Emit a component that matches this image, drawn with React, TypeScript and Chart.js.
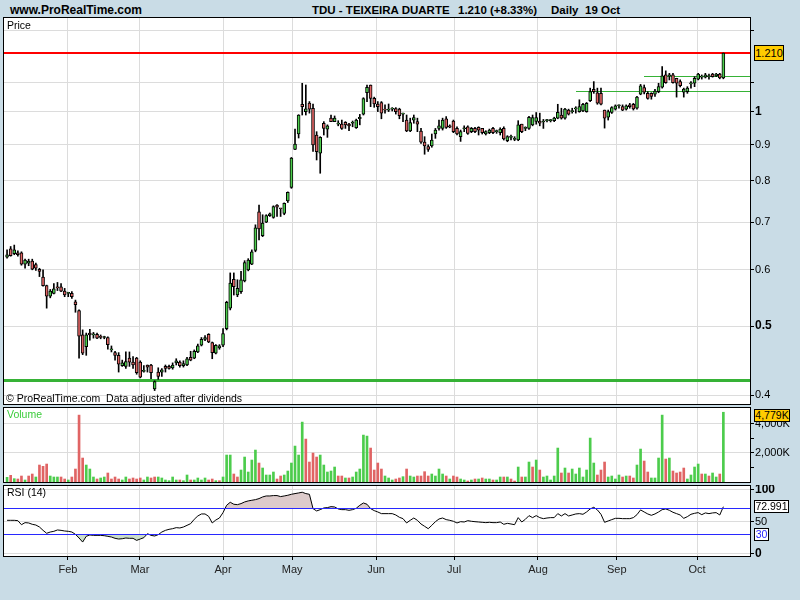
import React, { useEffect, useRef } from 'react';
import { Chart, registerables } from 'chart.js';

Chart.register(...registerables);

// ---------- DATA ----------
const OPEN = [
  0.625, 0.642, 0.632, 0.634, 0.634, 0.611, 0.613, 0.617, 0.610, 0.601,
  0.586, 0.570, 0.551, 0.556, 0.568, 0.568, 0.560, 0.556, 0.556, 0.541,
  0.526, 0.486, 0.468, 0.489, 0.486, 0.487, 0.484, 0.482, 0.482, 0.463,
  0.459, 0.455, 0.440, 0.439, 0.451, 0.445, 0.451, 0.445, 0.432, 0.441,
  0.441, 0.408, 0.431, 0.431, 0.439, 0.439, 0.437, 0.444, 0.445, 0.440,
  0.441, 0.452, 0.451, 0.460, 0.470, 0.479, 0.487, 0.474, 0.458, 0.466,
  0.470, 0.496, 0.530, 0.582, 0.553, 0.559, 0.579, 0.600, 0.611, 0.639,
  0.724, 0.670, 0.700, 0.715, 0.711, 0.740, 0.732, 0.720, 0.750, 0.783,
  0.886, 0.931, 1.025, 1.001, 1.029, 1.012, 0.928, 0.875, 0.964, 0.946,
  0.980, 0.969, 0.961, 0.961, 0.967, 0.961, 0.964, 0.950, 0.978, 0.993,
  1.064, 1.091, 1.045, 1.026, 1.031, 1.007, 1.006, 1.009, 1.011, 1.009,
  0.993, 0.974, 0.940, 0.974, 0.969, 0.940, 0.907, 0.894, 0.896, 0.931,
  0.948, 0.948, 0.978, 0.956, 0.971, 0.948, 0.923, 0.947, 0.953, 0.938,
  0.948, 0.951, 0.948, 0.931, 0.935, 0.948, 0.938, 0.935, 0.948, 0.911,
  0.921, 0.915, 0.913, 0.961, 0.948, 0.948, 0.959, 0.970, 0.971, 0.968,
  0.972, 0.972, 0.972, 0.980, 0.990, 0.980, 1.006, 1.001, 1.010, 1.001,
  1.003, 1.001, 1.037, 1.076, 1.064, 1.062, 1.006, 0.983, 0.998, 1.009,
  1.020, 1.017, 1.009, 1.023, 1.025, 1.012, 1.059, 1.082, 1.062, 1.062,
  1.059, 1.068, 1.083, 1.127, 1.124, 1.127, 1.115, 1.103, 1.066, 1.068,
  1.095, 1.097, 1.112, 1.119, 1.119, 1.121, 1.130, 1.124, 1.130, 1.116,
];
const HIGH = [
  0.640, 0.647, 0.650, 0.638, 0.636, 0.621, 0.621, 0.621, 0.613, 0.603,
  0.600, 0.571, 0.563, 0.574, 0.576, 0.574, 0.565, 0.558, 0.559, 0.544,
  0.527, 0.494, 0.489, 0.495, 0.490, 0.489, 0.486, 0.484, 0.483, 0.469,
  0.461, 0.459, 0.448, 0.460, 0.460, 0.453, 0.452, 0.447, 0.440, 0.441,
  0.442, 0.419, 0.437, 0.436, 0.441, 0.441, 0.444, 0.450, 0.447, 0.447,
  0.452, 0.461, 0.463, 0.472, 0.482, 0.485, 0.488, 0.475, 0.471, 0.471,
  0.496, 0.542, 0.594, 0.594, 0.581, 0.597, 0.618, 0.622, 0.640, 0.694,
  0.740, 0.717, 0.717, 0.721, 0.738, 0.741, 0.732, 0.745, 0.772, 0.863,
  0.946, 0.991, 1.097, 1.091, 1.034, 1.026, 0.938, 0.923, 0.969, 0.959,
  0.990, 0.987, 0.972, 0.974, 0.969, 0.964, 0.971, 0.977, 0.992, 1.047,
  1.091, 1.091, 1.049, 1.034, 1.034, 1.023, 1.026, 1.014, 1.014, 1.012,
  0.996, 0.990, 0.980, 0.990, 0.980, 0.948, 0.923, 0.899, 0.931, 0.948,
  0.974, 0.980, 0.985, 0.959, 0.974, 0.953, 0.943, 0.956, 0.956, 0.951,
  0.951, 0.953, 0.948, 0.941, 0.946, 0.951, 0.943, 0.950, 0.953, 0.926,
  0.928, 0.923, 0.972, 0.961, 0.953, 0.986, 0.990, 0.998, 0.996, 0.976,
  0.976, 0.976, 0.983, 1.025, 1.012, 1.012, 1.009, 1.012, 1.017, 1.040,
  1.028, 1.031, 1.080, 1.103, 1.080, 1.080, 1.006, 1.006, 1.017, 1.023,
  1.023, 1.023, 1.023, 1.028, 1.028, 1.052, 1.093, 1.091, 1.068, 1.064,
  1.076, 1.097, 1.158, 1.142, 1.133, 1.133, 1.115, 1.109, 1.080, 1.085,
  1.103, 1.121, 1.133, 1.127, 1.133, 1.130, 1.133, 1.133, 1.133, 1.210,
];
const LOW = [
  0.623, 0.627, 0.630, 0.627, 0.609, 0.603, 0.608, 0.600, 0.599, 0.587,
  0.569, 0.530, 0.548, 0.555, 0.561, 0.559, 0.550, 0.550, 0.547, 0.523,
  0.451, 0.456, 0.455, 0.478, 0.481, 0.480, 0.480, 0.480, 0.464, 0.460,
  0.448, 0.431, 0.439, 0.436, 0.439, 0.436, 0.428, 0.423, 0.431, 0.431,
  0.422, 0.406, 0.421, 0.425, 0.431, 0.435, 0.435, 0.441, 0.438, 0.438,
  0.440, 0.447, 0.450, 0.459, 0.469, 0.477, 0.474, 0.450, 0.457, 0.464,
  0.468, 0.494, 0.527, 0.553, 0.550, 0.556, 0.577, 0.598, 0.610, 0.636,
  0.661, 0.668, 0.699, 0.713, 0.709, 0.713, 0.713, 0.717, 0.746, 0.781,
  0.885, 0.919, 0.990, 0.990, 0.996, 0.880, 0.856, 0.820, 0.928, 0.921,
  0.969, 0.969, 0.956, 0.945, 0.948, 0.941, 0.953, 0.948, 0.959, 0.990,
  1.034, 1.017, 1.015, 1.001, 0.978, 0.996, 1.001, 1.003, 0.993, 0.978,
  0.969, 0.938, 0.938, 0.964, 0.938, 0.903, 0.872, 0.880, 0.892, 0.918,
  0.943, 0.943, 0.948, 0.950, 0.935, 0.928, 0.909, 0.938, 0.930, 0.935,
  0.935, 0.928, 0.931, 0.928, 0.932, 0.932, 0.933, 0.928, 0.913, 0.908,
  0.913, 0.911, 0.911, 0.935, 0.941, 0.945, 0.956, 0.961, 0.956, 0.948,
  0.968, 0.968, 0.969, 0.978, 0.977, 0.977, 0.990, 0.996, 0.996, 0.999,
  1.001, 0.999, 1.034, 1.062, 1.025, 1.023, 0.949, 0.974, 0.995, 1.006,
  1.012, 1.004, 1.006, 1.012, 1.006, 1.009, 1.057, 1.060, 1.042, 1.042,
  1.051, 1.064, 1.080, 1.097, 1.109, 1.097, 1.049, 1.084, 1.049, 1.062,
  1.080, 1.085, 1.109, 1.112, 1.116, 1.112, 1.119, 1.121, 1.113, 1.113,
];
const CLOSE = [
  0.630, 0.628, 0.640, 0.630, 0.611, 0.619, 0.617, 0.601, 0.603, 0.597,
  0.570, 0.551, 0.560, 0.564, 0.566, 0.560, 0.553, 0.556, 0.550, 0.536,
  0.484, 0.458, 0.486, 0.486, 0.486, 0.481, 0.482, 0.482, 0.471, 0.463,
  0.455, 0.442, 0.444, 0.446, 0.445, 0.441, 0.430, 0.424, 0.432, 0.438,
  0.430, 0.418, 0.425, 0.434, 0.436, 0.436, 0.441, 0.447, 0.440, 0.443,
  0.450, 0.448, 0.461, 0.469, 0.479, 0.482, 0.475, 0.459, 0.470, 0.469,
  0.488, 0.540, 0.575, 0.568, 0.565, 0.581, 0.614, 0.619, 0.636, 0.687,
  0.685, 0.698, 0.715, 0.719, 0.736, 0.735, 0.731, 0.744, 0.771, 0.861,
  0.901, 0.990, 1.017, 1.010, 1.009, 0.899, 0.879, 0.921, 0.948, 0.956,
  0.969, 0.980, 0.961, 0.948, 0.959, 0.956, 0.964, 0.974, 0.983, 1.044,
  1.083, 1.045, 1.026, 1.017, 0.996, 1.006, 1.006, 1.009, 1.001, 0.988,
  0.993, 0.940, 0.966, 0.982, 0.961, 0.907, 0.896, 0.886, 0.913, 0.943,
  0.956, 0.974, 0.951, 0.952, 0.938, 0.931, 0.938, 0.947, 0.933, 0.948,
  0.938, 0.943, 0.935, 0.938, 0.943, 0.935, 0.938, 0.946, 0.916, 0.923,
  0.921, 0.915, 0.959, 0.938, 0.948, 0.983, 0.982, 0.982, 0.964, 0.968,
  0.972, 0.972, 0.980, 0.999, 0.980, 1.009, 0.993, 1.001, 1.010, 1.017,
  1.025, 1.028, 1.068, 1.068, 1.029, 1.025, 0.980, 1.001, 1.014, 1.020,
  1.020, 1.006, 1.020, 1.017, 1.010, 1.049, 1.088, 1.066, 1.045, 1.051,
  1.070, 1.085, 1.124, 1.099, 1.124, 1.099, 1.097, 1.089, 1.077, 1.080,
  1.095, 1.115, 1.130, 1.119, 1.127, 1.121, 1.121, 1.130, 1.116, 1.210,
];
// volume in thousands of shares
const VOLUME = [
  319, 456, 228, 205, 410, 137, 410, 547, 342, 1163,
  1072, 1231, 410, 342, 342, 342, 205, 137, 342, 889,
  4583, 1642, 1163, 889, 342, 205, 274, 342, 616, 205,
  342, 205, 137, 342, 205, 274, 205, 274, 137, 342,
  274, 342, 342, 274, 137, 91, 342, 137, 137, 91,
  479, 137, 137, 274, 137, 274, 137, 205, 91, 91,
  342, 1847, 1847, 547, 342, 821, 1710, 684, 1505, 2189,
  1300, 958, 479, 479, 684, 205, 410, 479, 752, 1300,
  2462, 1847, 4104, 2941, 1368, 1984, 1710, 1847, 1163, 684,
  752, 1026, 410, 410, 274, 274, 342, 684, 889, 3215,
  3146, 2326, 821, 1300, 889, 410, 274, 137, 205, 274,
  365, 889, 410, 342, 410, 410, 707, 410, 547, 410,
  889, 547, 410, 205, 410, 342, 205, 137, 68, 137,
  205, 205, 274, 205, 205, 137, 137, 342, 342, 342,
  205, 68, 1026, 342, 342, 1368, 1026, 1505, 821, 342,
  410, 137, 410, 2326, 616, 958, 616, 889, 547, 958,
  342, 821, 3010, 1300, 479, 821, 1368, 342, 410, 205,
  479, 342, 410, 410, 274, 1163, 2257, 1436, 684, 274,
  274, 1642, 4583, 1573, 1642, 752, 616, 684, 958, 205,
  479, 1026, 1231, 547, 547, 410, 616, 342, 547, 4779,
];
const RSI = [
  51.8, 51.8, 51.8, 51.3, 45.0, 48.2, 47.7, 45.6, 44.5, 41.4,
  36.2, 31.6, 33.6, 34.7, 36.8, 36.2, 35.2, 34.7, 33.6, 30.0,
  24.3, 18.0, 26.9, 29.0, 28.4, 28.4, 28.4, 27.9, 26.9, 25.8,
  23.8, 22.7, 23.2, 24.3, 23.8, 23.8, 20.6, 22.7, 24.8, 31.0,
  28.4, 27.4, 29.5, 33.6, 36.2, 37.8, 38.8, 40.4, 39.9, 41.4,
  44.0, 46.6, 53.4, 58.6, 61.7, 61.7, 58.0, 47.7, 52.3, 55.4,
  63.8, 75.2, 79.9, 76.8, 76.2, 77.8, 80.4, 82.0, 83.0, 84.0,
  85.6, 88.2, 89.7, 89.7, 90.3, 90.3, 88.7, 89.7, 90.8, 92.3,
  93.4, 94.4, 95.5, 93.4, 92.3, 70.0, 66.4, 68.4, 71.0, 71.6,
  73.1, 72.6, 69.5, 68.4, 68.4, 67.4, 68.4, 70.5, 75.2, 78.8,
  76.8, 70.0, 66.9, 64.8, 62.2, 62.2, 62.2, 62.2, 60.1, 56.5,
  54.4, 47.7, 51.8, 55.4, 51.8, 46.1, 42.5, 38.8, 44.0, 49.7,
  53.9, 55.4, 52.9, 51.8, 50.3, 47.7, 49.7, 49.2, 51.3, 50.3,
  49.7, 49.2, 48.7, 48.2, 48.7, 48.2, 48.2, 49.2, 45.6, 47.1,
  46.1, 45.0, 56.0, 49.2, 53.4, 59.1, 56.0, 59.1, 56.0, 54.4,
  55.4, 56.0, 56.0, 62.2, 58.6, 62.2, 58.6, 60.1, 61.7, 62.2,
  61.2, 64.8, 69.5, 72.1, 68.0, 61.2, 48.7, 50.8, 52.9, 54.9,
  54.9, 54.4, 54.4, 54.4, 56.0, 60.6, 68.0, 64.8, 61.7, 59.6,
  61.7, 64.8, 68.4, 69.5, 67.4, 64.3, 62.2, 60.1, 54.9, 57.5,
  61.2, 62.7, 63.8, 60.6, 63.3, 62.2, 63.3, 63.8, 60.1, 72.991,
];

const MONTH_LABELS = ['Feb', 'Mar', 'Apr', 'May', 'Jun', 'Jul', 'Aug', 'Sep', 'Oct'];
const MONTH_START = [16.9, 36.9, 60, 79.2, 102.5, 124.2, 147.5, 169.4, 191.7];

const PRICE_TICKS = [0.4, 0.5, 0.6, 0.7, 0.8, 0.9, 1, 1.1, 1.3];
const PRICE_LABELED = [0.4, 0.5, 0.6, 0.7, 0.8, 0.9, 1];
const PRICE_BOLD = [0.5, 1];
const VOLUME_TICKS = [1000, 2000, 3000, 4000];
const VOLUME_LABELED = [2000, 4000];
const RSI_TICKS = [0, 50, 100];
const RSI_BOLD = [0, 100];

const LAST_PRICE = 1.21;
const CHANGE_PCT = 8.33;
const SUPPORT_LEVEL = 0.42;
const TREND_LEVELS = [1.067, 1.12];
const TREND_FROM = [158, 177];
const RSI_BANDS = [30, 70];

// ---------- STYLE ----------
const BG = '#c9dce6';
const FONT = '"Liberation Sans", Arial, Helvetica, sans-serif';
const GRID = '#dcdcdc';
const UP = '#4ccc4c';
const DOWN = '#e06464';
const BAND_BLUE = 'rgb(40,40,255)';
const X_MIN = -0.85;
const X_MAX = 206.4;

const IDX = CLOSE.map((_, i) => i);

function monthAxis(showLabels: boolean): any {
  return {
    type: 'linear',
    min: X_MIN,
    max: X_MAX,
    bounds: 'data',
    offset: false,
    afterBuildTicks: (s: any) => {
      s.ticks = MONTH_START.map((v) => ({ value: v }));
    },
    afterFit: (s: any) => {
      s.height = showLabels ? 44 : 0;
      s.paddingLeft = 0;
      s.paddingRight = 0;
      s.paddingTop = 0;
      s.paddingBottom = 0;
    },
    grid: { color: GRID, lineWidth: 1, offset: false, drawTicks: showLabels, tickLength: 4, tickColor: '#000' },
    border: { display: false },
    ticks: {
      display: showLabels,
      autoSkip: false,
      maxRotation: 0,
      minRotation: 0,
      padding: 3,
      color: '#222',
      font: { family: FONT, size: 11 },
      callback: (_v: any, i: number) => MONTH_LABELS[i],
    },
  };
}

function fitRightAxis(s: any) {
  s.width = 50;
  s.paddingTop = 0;
  s.paddingBottom = 0;
  s.paddingLeft = 0;
  s.paddingRight = 0;
}

// horizontal level line, drawn as a filled rectangle so it stays crisp
function hline(chart: any, value: number, fromIndex: number | null, color: string, width: number) {
  const { ctx, chartArea: a, scales } = chart;
  const py = scales.y.getPixelForValue(value);
  const top = Math.round(py - width / 2);
  const px = fromIndex == null ? a.left : Math.round(scales.x.getPixelForValue(fromIndex));
  ctx.save();
  ctx.globalAlpha = 1;
  ctx.fillStyle = color;
  ctx.fillRect(px, top, a.right - px, width);
  ctx.restore();
}

function makePanelPlugin(bands: number[]) {
  return {
    id: 'panel',
    beforeDraw(chart: any) {
      const { ctx, chartArea: a } = chart;
      ctx.save();
      ctx.fillStyle = '#ffffff';
      ctx.fillRect(a.left, a.top, a.right - a.left, a.bottom - a.top);
      ctx.restore();
    },
    afterDraw(chart: any) {
      const { ctx, chartArea: a } = chart;
      bands.forEach((v) => hline(chart, v, null, BAND_BLUE, 1));
      ctx.save();
      ctx.strokeStyle = '#000';
      ctx.lineWidth = 1;
      ctx.strokeRect(a.left - 0.5, a.top - 0.5, a.right - a.left + 1, a.bottom - a.top + 1);
      ctx.restore();
    },
  };
}

const priceLinesPlugin = {
  id: 'priceLines',
  beforeDatasetsDraw(chart: any) {
    hline(chart, SUPPORT_LEVEL, null, '#36b236', 3);
    TREND_LEVELS.forEach((v, k) => hline(chart, v, TREND_FROM[k], '#36b236', 1));
    hline(chart, LAST_PRICE, null, '#ff0000', 2);
  },
};

const commonOptions = {
  responsive: false,
  maintainAspectRatio: false,
  animation: false,
  devicePixelRatio: 1,
  events: [],
};

function priceConfig(): any {
  return {
    type: 'bar',
    data: {
      datasets: [
        {
          label: 'body',
          data: IDX.map((i) => ({ x: i, y: [OPEN[i], CLOSE[i]] })),
          backgroundColor: IDX.map((i) => (CLOSE[i] >= OPEN[i] ? UP : DOWN)),
          borderColor: '#000',
          borderWidth: 1,
          borderSkipped: false,
          barThickness: 3,
          minBarLength: 1,
          grouped: false,
          order: 0,
        },
        {
          label: 'wick',
          data: IDX.map((i) => ({ x: i, y: [LOW[i], HIGH[i]] })),
          backgroundColor: '#000',
          borderWidth: 0,
          barThickness: 1,
          grouped: false,
          order: 1,
        },
      ],
    },
    options: {
      ...commonOptions,
      layout: { padding: { left: 4, right: 0, top: 1, bottom: 1 } },
      plugins: { legend: { display: false }, tooltip: { enabled: false } },
      scales: {
        x: monthAxis(false),
        y: {
          type: 'logarithmic',
          position: 'right',
          min: 0.3887,
          max: 1.355,
          bounds: 'data',
          afterBuildTicks: (s: any) => {
            s.ticks = PRICE_TICKS.map((v) => ({ value: v }));
          },
          afterFit: fitRightAxis,
          grid: { color: GRID, lineWidth: 1, drawTicks: true, tickLength: 4, tickColor: '#000' },
          border: { display: false },
          ticks: {
            padding: 1,
            color: '#000',
            autoSkip: false,
            font: (c: any) => {
              const b = c.tick && PRICE_BOLD.includes(c.tick.value);
              return { family: FONT, size: b ? 12 : 11, weight: b ? 'bold' : 'normal' };
            },
            callback: (v: any) => (PRICE_LABELED.includes(v) ? String(v) : ''),
          },
        },
      },
    },
    plugins: [makePanelPlugin([]), priceLinesPlugin],
  };
}

function volumeConfig(): any {
  return {
    type: 'bar',
    data: {
      datasets: [
        {
          label: 'Volume',
          data: IDX.map((i) => ({ x: i, y: VOLUME[i] })),
          backgroundColor: IDX.map((i) =>
            i === 0 ? (CLOSE[0] >= OPEN[0] ? UP : DOWN) : CLOSE[i] >= CLOSE[i - 1] ? UP : DOWN
          ),
          borderWidth: 0,
          barThickness: 2,
          grouped: false,
        },
      ],
    },
    options: {
      ...commonOptions,
      layout: { padding: { left: 4, right: 0, top: 1, bottom: 1 } },
      plugins: { legend: { display: false }, tooltip: { enabled: false } },
      scales: {
        x: monthAxis(false),
        y: {
          type: 'linear',
          position: 'right',
          min: 0,
          max: 5070,
          bounds: 'data',
          afterBuildTicks: (s: any) => {
            s.ticks = VOLUME_TICKS.map((v) => ({ value: v }));
          },
          afterFit: fitRightAxis,
          grid: {
            color: (c: any) => (c.tick && VOLUME_LABELED.includes(c.tick.value) ? GRID : 'rgba(0,0,0,0)'),
            lineWidth: 1,
            drawTicks: true,
            tickLength: 4,
            tickColor: '#000',
          },
          border: { display: false },
          ticks: {
            padding: 1,
            color: '#000',
            autoSkip: false,
            font: { family: FONT, size: 11 },
            callback: (v: any) => (VOLUME_LABELED.includes(v) ? `${v.toLocaleString('en-US')}K` : ''),
          },
        },
      },
    },
    plugins: [makePanelPlugin([])],
  };
}

function rsiConfig(): any {
  const pts = IDX.map((i) => ({ x: i, y: RSI[i] }));
  return {
    type: 'line',
    data: {
      datasets: [
        {
          label: 'RSI',
          data: pts,
          borderColor: '#000',
          borderWidth: 1,
          pointRadius: 0,
          tension: 0,
          fill: { target: { value: RSI_BANDS[1] }, above: 'rgb(221,203,203)', below: 'rgba(255,255,255,0)' },
        },
        {
          label: 'RSI oversold',
          data: pts,
          borderColor: 'rgba(255,255,255,0)',
          borderWidth: 1,
          pointRadius: 0,
          tension: 0,
          fill: { target: { value: RSI_BANDS[0] }, above: 'rgba(255,255,255,0)', below: 'rgb(203,222,203)' },
        },
      ],
    },
    options: {
      ...commonOptions,
      layout: { padding: { left: 4, right: 0, top: 1, bottom: 0 } },
      plugins: { legend: { display: false }, tooltip: { enabled: false } },
      scales: {
        x: monthAxis(true),
        y: {
          type: 'linear',
          position: 'right',
          min: -3.7,
          max: 105.2,
          bounds: 'data',
          afterBuildTicks: (s: any) => {
            s.ticks = RSI_TICKS.map((v) => ({ value: v }));
          },
          afterFit: fitRightAxis,
          grid: { color: GRID, lineWidth: 1, drawTicks: true, tickLength: 4, tickColor: '#000' },
          border: { display: false },
          ticks: {
            padding: 1,
            color: '#000',
            autoSkip: false,
            font: (c: any) => {
              const b = c.tick && RSI_BOLD.includes(c.tick.value);
              return { family: FONT, size: b ? 12 : 11, weight: b ? 'bold' : 'normal' };
            },
            callback: (v: any) => String(v),
          },
        },
      },
    },
    plugins: [makePanelPlugin(RSI_BANDS)],
  };
}

function ChartCanvas({ top, height, build }: { top: number; height: number; build: () => any }) {
  const ref = useRef<HTMLCanvasElement>(null);
  useEffect(() => {
    const chart = new Chart(ref.current as HTMLCanvasElement, build());
    return () => chart.destroy();
  }, []);
  return (
    <canvas
      ref={ref}
      width={800}
      height={height}
      style={{ position: 'absolute', left: 0, top, width: 800, height, display: 'block' }}
    />
  );
}

const abs = (left: number, top: number, extra: any = {}): any => ({
  position: 'absolute',
  left,
  top,
  whiteSpace: 'nowrap',
  ...extra,
});

export default function App() {
  const lastVol = VOLUME[VOLUME.length - 1];
  const lastRsi = RSI[RSI.length - 1];
  const titleFont = { fontFamily: FONT, fontWeight: 'bold', fontSize: 11.5, lineHeight: '14px', color: '#000' };
  const smallFont = { fontFamily: FONT, fontSize: 10.5, lineHeight: '12px' };
  const boxBase = {
    boxSizing: 'border-box',
    border: '1px solid #000',
    fontFamily: FONT,
    fontSize: 10.5,
    textAlign: 'center',
    color: '#000',
  };
  return (
    <div
      style={{
        position: 'absolute',
        left: 0,
        top: 0,
        width: 800,
        height: 600,
        overflow: 'hidden',
        background: BG,
      }}
    >
      <ChartCanvas top={17} height={388} build={priceConfig} />
      <ChartCanvas top={407} height={76} build={volumeConfig} />
      <ChartCanvas top={485} height={115} build={rsiConfig} />

      <div style={abs(10, 3, { ...titleFont, fontSize: 12 })}>www.ProRealTime.com</div>
      <div style={abs(312, 3, titleFont)}>TDU - TEIXEIRA DUARTE</div>
      <div style={abs(458, 3, titleFont)}>
        {LAST_PRICE.toFixed(3)} (+{CHANGE_PCT.toFixed(2)}%)
      </div>
      <div style={abs(551, 3, titleFont)}>Daily</div>
      <div style={abs(585, 3, titleFont)}>19 Oct</div>

      <div style={abs(7, 19, { ...smallFont, color: '#000' })}>Price</div>
      <div style={abs(6, 392, { ...smallFont, fontSize: 10.5, color: '#000' })}>
        © ProRealTime.com&nbsp; Data adjusted after dividends
      </div>
      <div style={abs(7, 408, { ...smallFont, color: '#3ccc3c' })}>Volume</div>
      <div style={abs(7, 486, { ...smallFont, color: '#000' })}>RSI (14)</div>

      <div style={abs(754, 45, { ...boxBase, width: 30, height: 16, lineHeight: '14px', background: '#ffcc00', fontSize: 11 })}>
        {LAST_PRICE.toFixed(3)}
      </div>
      <div style={abs(754, 409, { ...boxBase, width: 36, height: 13, lineHeight: '11px', background: '#ffcc00' })}>
        {lastVol.toLocaleString('en-US')}K
      </div>
      <div style={abs(754, 500, { ...boxBase, width: 35, height: 13, lineHeight: '11px', background: '#fff' })}>
        {lastRsi.toFixed(3)}
      </div>
      <div style={abs(754, 528, { ...boxBase, width: 15, height: 13, lineHeight: '11px', background: '#fff', color: BAND_BLUE })}>
        {RSI_BANDS[0]}
      </div>
    </div>
  );
}
